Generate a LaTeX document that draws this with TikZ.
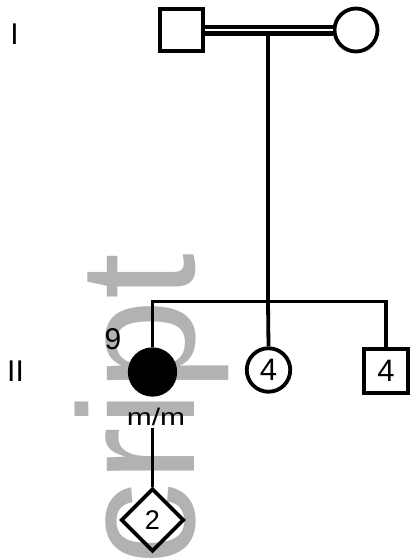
\documentclass[tikz,border=0pt]{standalone}
\usepackage{fontspec}
\setmainfont{Liberation Sans}
\usetikzlibrary{shapes.geometric}
\definecolor{wm}{gray}{0.70}
\begin{document}
\begin{tikzpicture}[x=1pt,y=-1pt,
  lw/.style={line width=3.8pt},
  male/.style={draw, lw, rectangle, inner sep=0pt},
  female/.style={draw, lw, circle, inner sep=0pt},
  unk/.style={draw, lw, diamond, aspect=1, inner sep=0pt, minimum size=63pt},
  conn/.style={lw},
  gen/.style={inner sep=0pt, font=\fontsize{30}{30}\selectfont},
  num/.style={font=\fontsize{31}{31}\selectfont},
]
\useasboundingbox (0,0) rectangle (412,558);
\clip (0,0) rectangle (412,558);
% watermark
\node[rotate=90, anchor=base west, inner sep=0pt, text=wm,
      font=\fontsize{165}{165}\selectfont] (wmk) at (194,648) {script};
% generation labels
\node[gen] (g1) at (14.5,34) {I};
\node[gen] (g2) at (15.5,371.5) {II};
% generation I
\node[male, minimum size=42.5pt] (f) at (181.5,30) {};
\node[female, minimum size=43pt] (m) at (356,30) {};
\coordinate (mid) at (268,30);
\coordinate (sib) at (268,301.5);
\draw[conn] (mid) -- (sib);
\draw[line width=4.2pt, double=white, double distance=2.6pt] (f.east) -- (m.west);
% generation II
\node[female, fill=black, minimum size=45.5pt] (aff) at (152.5,372) {};
\node[female, minimum size=43.5pt, num] (c2) at (268.5,370) {4};
\node[male, minimum size=44.5pt, num] (c3) at (386,371) {4};
\draw[conn] (aff.north) -- (aff.north |- sib) -- (c3.north |- sib) -- (c3.north);
\draw[conn] (sib) -- (c2.north);
\node[inner sep=0pt, font=\fontsize{30}{30}\selectfont] (n9) at (113,339) {9};
\node[inner sep=0pt, font=\fontsize{24}{24}\selectfont] (mm) at (156,417) {\scalebox{1.25}[1]{m/m}};
% generation III
\node[unk, font=\fontsize{27}{27}\selectfont] (d) at (152.5,520) {2};
\coordinate (mmb) at (152.5,428);
\draw[conn] (mmb) -- (d.north);
\end{tikzpicture}
\end{document}
